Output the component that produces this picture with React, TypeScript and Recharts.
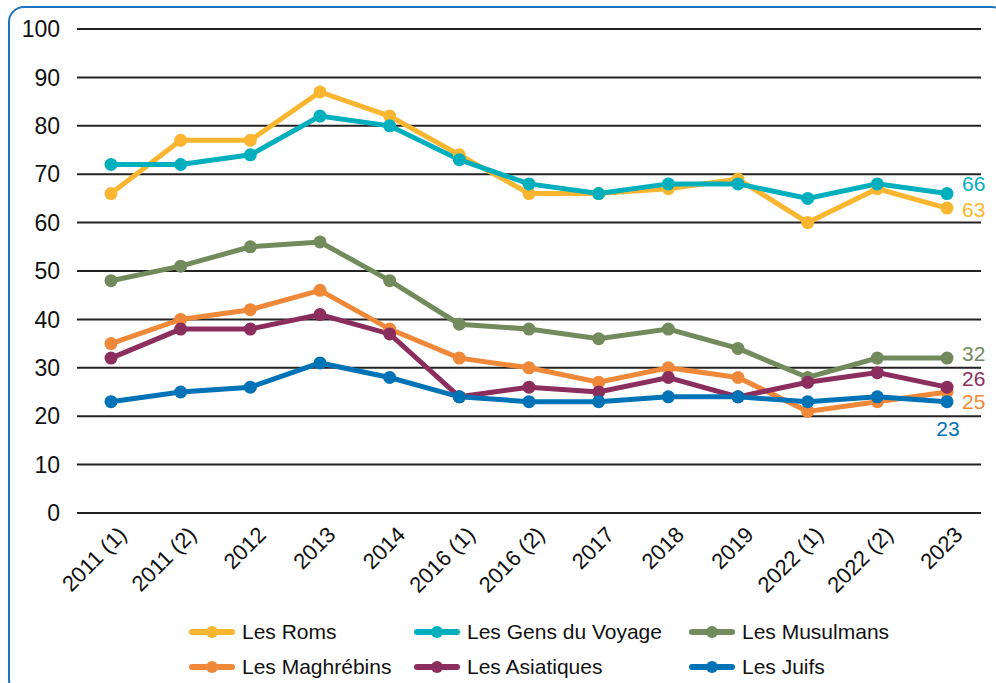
import { LineChart, Line, XAxis, YAxis, CartesianGrid, LabelList } from 'recharts';

const periods = ['2011 (1)', '2011 (2)', '2012', '2013', '2014', '2016 (1)', '2016 (2)', '2017', '2018', '2019', '2022 (1)', '2022 (2)', '2023'];
const roms = [66, 77, 77, 87, 82, 74, 66, 66, 67, 69, 60, 67, 63];
const gensDuVoyage = [72, 72, 74, 82, 80, 73, 68, 66, 68, 68, 65, 68, 66];
const musulmans = [48, 51, 55, 56, 48, 39, 38, 36, 38, 34, 28, 32, 32];
const maghrebins = [35, 40, 42, 46, 38, 32, 30, 27, 30, 28, 21, 23, 25];
const asiatiques = [32, 38, 38, 41, 37, 24, 26, 25, 28, 24, 27, 29, 26];
const juifs = [23, 25, 26, 31, 28, 24, 23, 23, 24, 24, 23, 24, 23];
const yTicks = [0, 10, 20, 30, 40, 50, 60, 70, 80, 90, 100];

const series = [
  { key: 'roms', name: 'Les Roms', values: roms, color: '#FBB631', dx: 15, dy: 3, anchor: 'start' },
  { key: 'gens', name: 'Les Gens du Voyage', values: gensDuVoyage, color: '#00AFBE', dx: 15, dy: -8, anchor: 'start' },
  { key: 'musulmans', name: 'Les Musulmans', values: musulmans, color: '#728A5C', dx: 15, dy: -3, anchor: 'start' },
  { key: 'maghrebins', name: 'Les Maghrébins', values: maghrebins, color: '#F0883A', dx: 15, dy: 11, anchor: 'start' },
  { key: 'asiatiques', name: 'Les Asiatiques', values: asiatiques, color: '#8B2E5E', dx: 15, dy: -7, anchor: 'start' },
  { key: 'juifs', name: 'Les Juifs', values: juifs, color: '#0072B6', dx: 1, dy: 29, anchor: 'middle' },
];

const data = periods.map((p, i) => {
  const row: any = { period: p };
  series.forEach((s) => { row[s.key] = s.values[i]; });
  return row;
});

const font = '"Liberation Sans", Arial, sans-serif';

const XTick = (props: any) => {
  const { x, y, payload } = props;
  const tx = x + 17;
  const ty = y + 15;
  return (
    <text x={tx} y={ty} transform={`rotate(-45, ${tx}, ${ty})`} textAnchor="end" fontSize={22} fill="#111" fontFamily={font}>
      {payload.value}
    </text>
  );
};

const endLabel = (s: any) => (props: any) => {
  const { x, y, value, index } = props;
  if (index !== periods.length - 1) return null;
  return (
    <text x={x + s.dx} y={y + s.dy} textAnchor={s.anchor} dominantBaseline="middle" fontSize={21} fill={s.color} fontFamily={font}>
      {value}
    </text>
  );
};

const colWidths = [225, 275, 250];

const ChartLegend = () => (
  <div style={{ position: 'absolute', left: 188, top: 619, display: 'grid', gridTemplateColumns: colWidths.map((w) => `${w}px`).join(' '), rowGap: 9, fontFamily: font, fontSize: 21, color: '#111' }}>
    {series.map((s) => (
      <div key={s.key} style={{ display: 'flex', alignItems: 'center', height: 26 }}>
        <svg width={54} height={20}>
          <line x1={4} y1={10} x2={44} y2={10} stroke={s.color} strokeWidth={6} strokeLinecap="round" />
          <circle cx={24} cy={10} r={6} fill={s.color} />
        </svg>
        <span>{s.name}</span>
      </div>
    ))}
  </div>
);

export default function App() {
  return (
    <div style={{ position: 'fixed', left: 0, top: 0, width: 996, height: 683, background: '#fff', overflow: 'hidden' }}>
      <div style={{ position: 'absolute', left: 8, top: 6, width: 1000, height: 690, border: '2px solid #1C75BC', borderRadius: 16, boxSizing: 'border-box' }} />
      <LineChart width={996} height={683} data={data} margin={{ top: 29, right: 15, left: 0, bottom: 0 }}>
        <CartesianGrid vertical={false} stroke="#222" strokeWidth={2} />
        <XAxis dataKey="period" axisLine={false} tickLine={false} interval={0} padding={{ left: 34, right: 34 }} tick={<XTick />} height={170} />
        <YAxis domain={[0, 100]} ticks={yTicks} axisLine={false} tickLine={false} tickSize={0} tickMargin={17} width={77} interval={0}
          tick={{ fontSize: 23, fill: '#111', fontFamily: font }} />
        {series.map((s) => (
          <Line key={s.key} dataKey={s.key} name={s.name} stroke={s.color} strokeWidth={5} type="linear"
            dot={{ r: 6.5, fill: s.color, stroke: s.color, strokeWidth: 0 }} isAnimationActive={false}>
            <LabelList dataKey={s.key} content={endLabel(s)} />
          </Line>
        ))}
      </LineChart>
      <ChartLegend />
    </div>
  );
}
